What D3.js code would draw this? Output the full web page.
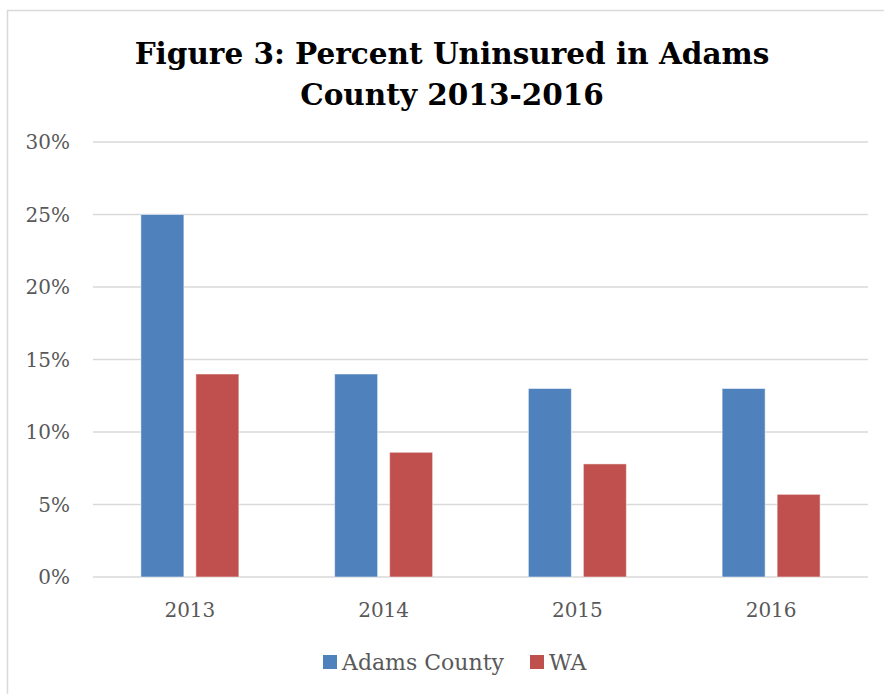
<!DOCTYPE html>
<html>
<head>
<meta charset="utf-8">
<script src="https://cdn.jsdelivr.net/npm/d3@7"></script>
<style>
  body { margin: 0; background: #fff; }
  svg { display: block; }
</style>
</head>
<body>
<svg id="chart" width="884" height="694"></svg>
<script>
const years = ["2013", "2014", "2015", "2016"];
const seriesNames = ["Adams County", "WA"];
const adamsVals = [25, 14, 13, 13];
const waVals = [14, 8.6, 7.8, 5.7];
const yTicks = [0, 5, 10, 15, 20, 25, 30];
const colors = ["#4f81bd", "#c0504d"];

const fontFam = "'DejaVu Serif', 'Liberation Serif', serif";
const svg = d3.select("#chart");

// outer frame
svg.append("rect")
    .attr("x", 7.5).attr("y", 10.5)
    .attr("width", 900).attr("height", 720)
    .attr("fill", "#fff")
    .attr("stroke", "#d9d9d9").attr("stroke-width", 1.5);

// title
const title = svg.append("text")
    .attr("text-anchor", "middle")
    .attr("font-family", fontFam)
    .attr("font-weight", "bold")
    .attr("font-size", 29.5)
    .attr("fill", "#000");
title.append("tspan").attr("x", 452).attr("y", 64).text("Figure 3: Percent Uninsured in Adams");
title.append("tspan").attr("x", 452).attr("y", 105).text("County 2013-2016");

const x0 = d3.scaleBand().domain(years).range([93, 868]);
const y = d3.scaleLinear().domain([0, 30]).range([577, 142]);
const barW = 43, gap = 12;

// gridlines
svg.append("g").selectAll("line")
    .data(yTicks)
    .enter()
    .append("line")
    .attr("x1", 93).attr("x2", 868)
    .attr("y1", d => y(d)).attr("y2", d => y(d))
    .attr("stroke", "#d9d9d9").attr("stroke-width", 1.5);

// y labels
svg.append("g").selectAll("text")
    .data(yTicks)
    .enter()
    .append("text")
    .attr("x", 70)
    .attr("y", d => y(d) + 7)
    .attr("text-anchor", "end")
    .attr("font-family", fontFam)
    .attr("font-size", 20)
    .attr("fill", "#595959")
    .text(d => d + "%");

// bars
const seriesVals = [adamsVals, waVals];
seriesVals.forEach((vals, s) => {
    svg.append("g").selectAll("rect")
        .data(vals)
        .enter()
        .append("rect")
        .attr("x", (d, i) => {
            var c = x0(years[i]) + x0.bandwidth() / 2;
            return s === 0 ? c - gap / 2 - barW : c + gap / 2;
        })
        .attr("y", d => y(d))
        .attr("width", barW)
        .attr("height", d => y(0) - y(d))
        .attr("fill", colors[s])
        .attr("stroke", "#ffffff").attr("stroke-opacity", 0.5).attr("stroke-width", 1);
});

// x labels
svg.append("g").selectAll("text")
    .data(years)
    .enter()
    .append("text")
    .attr("x", d => x0(d) + x0.bandwidth() / 2)
    .attr("y", 617)
    .attr("text-anchor", "middle")
    .attr("font-family", fontFam)
    .attr("font-size", 20)
    .attr("fill", "#595959")
    .text(d => d);

// legend
const legX = [323, 530];
seriesNames.forEach((name, i) => {
    svg.append("rect")
        .attr("x", legX[i]).attr("y", 655)
        .attr("width", 14).attr("height", 14)
        .attr("fill", colors[i]);
    svg.append("text")
        .attr("x", legX[i] + 19).attr("y", 670)
        .attr("font-family", fontFam)
        .attr("font-size", 22)
        .attr("fill", "#595959")
        .text(name);
});
</script>
</body>
</html>
